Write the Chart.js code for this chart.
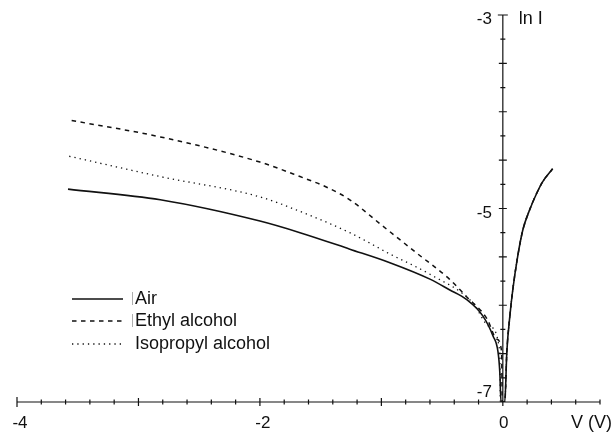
<!DOCTYPE html>
<html>
<head>
<meta charset="utf-8">
<script src="https://cdn.jsdelivr.net/npm/chart.js@4/dist/chart.umd.min.js"></script>
<style>
  html, body { margin: 0; padding: 0; background: #fff; }
  #wrap { width: 614px; height: 432px; }
</style>
</head>
<body>
<div id="wrap"><canvas id="iv"></canvas></div>
<script>
// ===== data =====
const seriesNames = ['Air', 'Ethyl alcohol', 'Isopropyl alcohol'];

// reverse branch, per medium
const airV   = [-3.58, -2.82, -2.00, -1.67, -1.26, -0.93, -0.60, -0.44, -0.30, -0.165, -0.08, -0.04, -0.025, -0.015];
const airLnI = [-4.80, -4.91, -5.13, -5.25, -5.42, -5.56, -5.73, -5.84, -5.94, -6.11, -6.32, -6.48, -6.69, -7.00];

const ethylV   = [-3.55, -2.82, -2.00, -1.67, -1.45, -1.26, -0.99, -0.71, -0.44, -0.30, -0.13, -0.05, -0.01, -0.005];
const ethylLnI = [-4.09, -4.26, -4.52, -4.67, -4.78, -4.91, -5.18, -5.46, -5.73, -5.91, -6.14, -6.35, -6.48, -7.00];

const isoV   = [-3.57, -2.82, -2.00, -1.67, -1.26, -0.93, -0.60, -0.25, -0.11, -0.025, -0.02];
const isoLnI = [-4.46, -4.67, -4.88, -5.03, -5.25, -5.47, -5.68, -5.97, -6.22, -6.48, -7.00];

// forward branch, the three media overlap
const fwdV   = [0.016, 0.033, 0.058, 0.082, 0.123, 0.165, 0.222, 0.28, 0.33, 0.41];
const fwdLnI = [-7.00, -6.48, -6.11, -5.84, -5.49, -5.22, -5.01, -4.84, -4.72, -4.59];

const xTickLabels = [-4, -2, 0];
const yTickLabels = [-3, -5, -7];

function toPoints(vs, ls) {
    return vs.map((v, i) => ({ x: v, y: ls[i] }));
}

const ink = '#111';
const FAMILY = '"Liberation Sans", Arial, sans-serif';

const lineStyles = [
    { dash: [], width: 1.6 },
    { dash: [4.5, 4.5], width: 1.5 },
    { dash: [1.3, 4], width: 1.3 },
];

const datasets = [
    toPoints(airV, airLnI).concat(toPoints(fwdV, fwdLnI)),
    toPoints(ethylV, ethylLnI).concat(toPoints(fwdV, fwdLnI)),
    toPoints(isoV, isoLnI).concat(toPoints(fwdV, fwdLnI)),
].map((pts, i) => ({
    label: seriesNames[i],
    data: pts,
    showLine: true,
    borderColor: ink,
    borderWidth: lineStyles[i].width,
    borderDash: lineStyles[i].dash,
    pointRadius: 0,
    cubicInterpolationMode: 'monotone',
    fill: false,
}));

// axes crossing at V = 0 / ln I = -7, ticks through the line
const axesPlugin = {
    id: 'crossAxes',
    afterDatasetsDraw(chart) {
        const { ctx } = chart;
        const xs = chart.scales.x, ys = chart.scales.y;
        const y0 = ys.getPixelForValue(-7);
        const x0 = xs.getPixelForValue(0);
        ctx.save();
        ctx.strokeStyle = ink;
        ctx.fillStyle = ink;
        ctx.lineWidth = 1.2;
        ctx.setLineDash([]);

        // x axis
        ctx.beginPath();
        ctx.moveTo(xs.getPixelForValue(xs.min), y0);
        ctx.lineTo(xs.getPixelForValue(xs.max), y0);
        for (let k = 0; k <= 24; k++) {
            const v = -4 + k * 0.2;
            const px = xs.getPixelForValue(v);
            const h = k === 0 ? 5 : (Math.abs(v - Math.round(v)) < 1e-6 ? 4 : 2.5);
            ctx.moveTo(px, y0 - h);
            ctx.lineTo(px, y0 + h);
        }
        // y axis
        ctx.moveTo(x0, ys.getPixelForValue(ys.min));
        ctx.lineTo(x0, ys.getPixelForValue(ys.max));
        for (let k = 0; k <= 16; k++) {
            const v = -7 + k * 0.25;
            const py = ys.getPixelForValue(v);
            const w = k === 16 ? 5 : (k % 2 === 0 ? 4 : 2.5);
            ctx.moveTo(x0 - w, py);
            ctx.lineTo(x0 + w, py);
        }
        ctx.stroke();

        ctx.font = '17px ' + FAMILY;
        ctx.textBaseline = 'alphabetic';
        ctx.textAlign = 'center';
        xTickLabels.forEach(v => {
            ctx.fillText(String(v), xs.getPixelForValue(v) + (v === 0 ? 1 : 3), y0 + 26);
        });
        ctx.textAlign = 'right';
        yTickLabels.forEach(v => {
            const py = ys.getPixelForValue(v);
            ctx.fillText(String(v), x0 - 11, v === -7 ? py - 5 : py + 9);
        });
        ctx.font = '18px ' + FAMILY;
        ctx.textAlign = 'left';
        ctx.fillText('ln I', x0 + 16, ys.getPixelForValue(-3) + 9);
        ctx.fillText('V (V)', 571, y0 + 26);
        ctx.restore();
    }
};

// hand-made legend, bottom left
const legendPlugin = {
    id: 'mediaLegend',
    afterDraw(chart) {
        const { ctx } = chart;
        const rows = [299, 321, 344];
        ctx.save();
        ctx.strokeStyle = ink;
        ctx.fillStyle = ink;
        ctx.font = '18px ' + FAMILY;
        ctx.textBaseline = 'middle';
        seriesNames.forEach((name, i) => {
            const y = rows[i];
            ctx.lineWidth = lineStyles[i].width;
            ctx.setLineDash(lineStyles[i].dash);
            ctx.beginPath();
            ctx.moveTo(72, y);
            ctx.lineTo(123, y);
            ctx.stroke();
            ctx.setLineDash([]);
            if (i < 2) {
                ctx.lineWidth = 0.8;
                ctx.strokeStyle = '#999';
                ctx.beginPath();
                ctx.moveTo(132.5, y - 7);
                ctx.lineTo(132.5, y + 6);
                ctx.stroke();
                ctx.strokeStyle = ink;
            }
            ctx.fillText(name, 135, y);
        });
        ctx.restore();
    }
};

new Chart(document.getElementById('iv'), {
    type: 'scatter',
    data: { datasets },
    options: {
        responsive: true,
        maintainAspectRatio: false,
        animation: false,
        layout: { padding: { left: 17, right: 14, top: 15, bottom: 30 } },
        scales: {
            x: { type: 'linear', min: -4, max: 0.8, display: false },
            y: { type: 'linear', min: -7, max: -3, display: false },
        },
        plugins: {
            legend: { display: false },
            tooltip: { enabled: false },
        },
    },
    plugins: [axesPlugin, legendPlugin],
});
</script>
</body>
</html>
